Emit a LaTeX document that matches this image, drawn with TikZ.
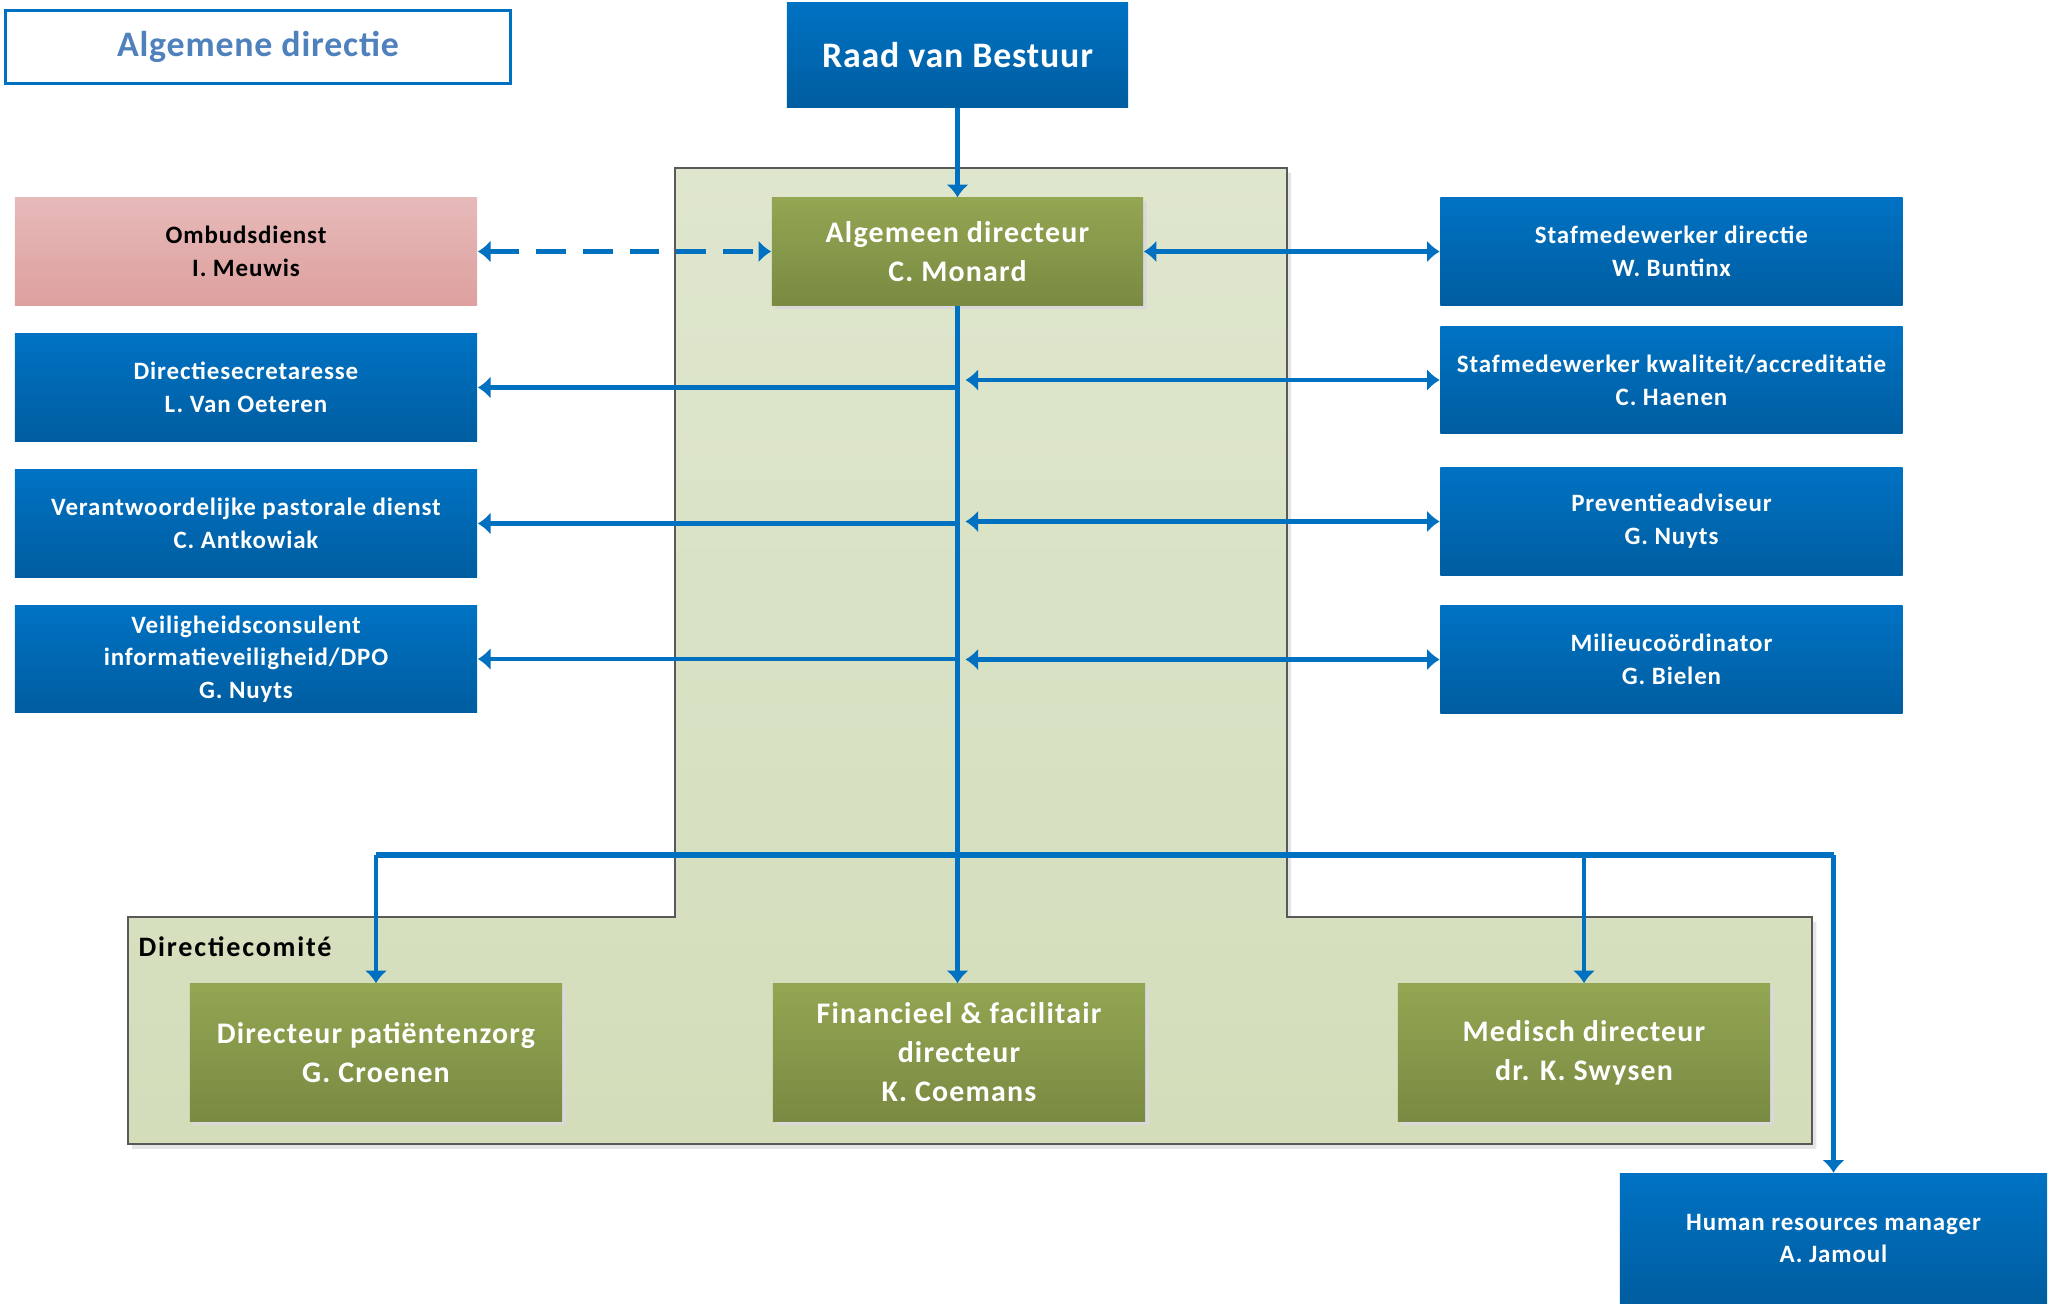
\documentclass[tikz,border=0pt]{standalone}
\usepackage{fontspec}
\setmainfont{Carlito}
\usetikzlibrary{arrows.meta,shadows}
\definecolor{lineblue}{RGB}{0,112,192}
\definecolor{titleblue}{RGB}{79,129,189}
\definecolor{boxtop}{RGB}{0,114,195}
\definecolor{boxbot}{RGB}{0,93,160}
\definecolor{greentop}{RGB}{147,166,82}
\definecolor{greenbot}{RGB}{121,138,66}
\definecolor{pinktop}{RGB}{230,186,185}
\definecolor{pinkbot}{RGB}{221,160,159}
\definecolor{backtop}{RGB}{223,230,206}
\definecolor{backbot}{RGB}{211,221,186}
\begin{document}
\begin{tikzpicture}[x=0.01cm,y=-0.01cm,
  box/.style={inner sep=0pt,align=center,text=white,
    font=\bfseries\addfontfeatures{LetterSpace=3.5}\fontsize{7.1}{9.3}\selectfont,
    minimum width=4.62cm,minimum height=1.07cm},
  bluebox/.style={box,top color=boxtop,bottom color=boxbot},
  greenbox/.style={box,top color=greentop,bottom color=greenbot,minimum width=3.72cm,
    font=\bfseries\addfontfeatures{LetterSpace=4}\fontsize{8.5}{11.1}\selectfont,
    drop shadow={shadow xshift=1pt,shadow yshift=-1pt,fill=black!15,opacity=1}},
  bigtext/.style={font=\bfseries\addfontfeatures{LetterSpace=2.3}\fontsize{10.2}{12}\selectfont},
  link/.style={draw=lineblue,line width=1.3pt,-{Latex[length=3.6pt,width=6.4pt]}},
  twolink/.style={link,{Latex[length=3.6pt,width=6.4pt]}-{Latex[length=3.6pt,width=6.4pt]}}]
\useasboundingbox (0,0) rectangle (2049,1303);
\draw[black!65,line width=0.4pt,top color=backtop,bottom color=backbot,
  drop shadow={shadow xshift=1.2pt,shadow yshift=-1.4pt,fill=black!10,opacity=1}]
  (675,168) -- (1287,168) -- (1287,917) -- (1812,917) -- (1812,1144)
  -- (128,1144) -- (128,917) -- (675,917) -- cycle;
\node[draw=lineblue,line width=0.9pt,fill=white,minimum width=5.05cm,minimum height=0.73cm,
  text=titleblue,bigtext] (title) at (258,47) {Algemene directie};
\node[bluebox,minimum width=3.41cm,minimum height=1.05cm,bigtext] (raad) at (957.5,55) {Raad van Bestuur};
\node[greenbox,minimum width=3.71cm] (algdir) at (957.5,251.5) {Algemeen directeur\\C. Monard};
\node[box,top color=pinktop,bottom color=pinkbot,text=black] (ombuds) at (246,251.5) {Ombudsdienst\\I. Meuwis};
\node[bluebox] (secr) at (246,387.5) {Directiesecretaresse\\L. Van Oeteren};
\node[bluebox] (pastor) at (246,523.5) {Verantwoordelijke pastorale dienst\\C. Antkowiak};
\node[bluebox] (dpo) at (246,659) {Veiligheidsconsulent\\informatieveiligheid/DPO\\G. Nuyts};
\node[bluebox] (stafdir) at (1671.5,251.5) {Stafmedewerker directie\\W. Buntinx};
\node[bluebox,minimum height=1.06cm] (stafkwal) at (1671.5,380) {Stafmedewerker kwaliteit/accreditatie\\C. Haenen};
\node[bluebox] (prev) at (1671.5,521.5) {Preventieadviseur\\G. Nuyts};
\node[bluebox] (milieu) at (1671.5,659.5) {Milieucoördinator\\G. Bielen};
\node[anchor=west,inner sep=0pt,font=\bfseries\addfontfeatures{LetterSpace=6.5}\fontsize{8}{10}\selectfont] (comite) at (138,947) {Directiecomité};
\node[greenbox,minimum height=1.37cm] (zorg) at (376,1052.5) {Directeur patiëntenzorg\\G. Croenen};
\node[greenbox,minimum height=1.37cm] (fin) at (959,1052.5) {Financieel \& facilitair\\directeur\\K. Coemans};
\node[greenbox,minimum height=1.37cm] (med) at (1584,1052.5) {Medisch directeur\\dr. K. Swysen};
\node[bluebox,minimum width=4.27cm,minimum height=1.30cm] (hr) at (1833.5,1238.5) {Human resources manager\\A. Jamoul};
\coordinate (spine) at (algdir.south);
\coordinate (bus) at (0,855);
\draw[link] (raad) -- (algdir);
\draw[twolink,dash pattern=on 8.5pt off 4.8pt] (ombuds) -- (algdir);
\draw[twolink] (algdir) -- (stafdir);
\draw[link] (spine) -- (spine |- fin.north);
\foreach \n in {secr,pastor,dpo} \draw[link] (spine |- \n) -- (\n);
\foreach \n in {stafkwal,prev,milieu} \draw[twolink] ([xshift=0.8mm]spine |- \n) -- (\n);
\draw[lineblue,line width=1.6pt] (bus -| zorg) -- (bus -| hr);
\foreach \n in {zorg,med,hr} \draw[link] (bus -| \n) -- (\n);
\end{tikzpicture}
\end{document}
